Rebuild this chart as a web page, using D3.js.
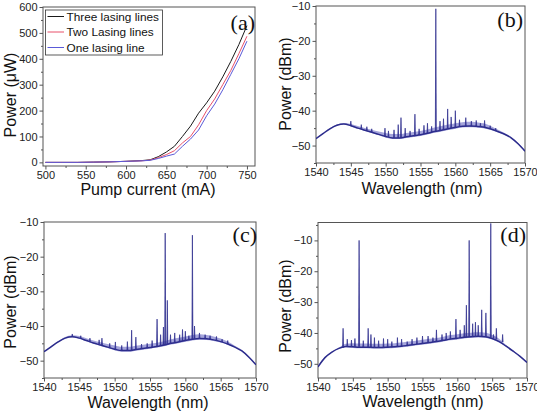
<!DOCTYPE html>
<html><head><meta charset="utf-8">
<script src="https://cdn.jsdelivr.net/npm/d3@7"></script>
<style>body{margin:0;background:#fff}svg{display:block}</style>
</head><body><svg id="c" width="537" height="419"></svg>
<script>
// ---------- Panel (a) data ----------
const currents   = [500,520,540,560,580,600,620,630,640,650,660,670,680,690,700,710,720,730,740,750];
const powerThree = [0,0,0,1,2,4,7,10,22,40,62,100,140,190,230,275,330,390,455,528];
const powerTwo   = [0,0,0,1,2,4,6,9,18,30,45,75,100,145,200,245,300,355,420,487];
const powerOne   = [0,0,0,1,2,4,6,8,15,24,32,62,90,125,180,225,280,340,400,468];
const seriesNames = ["Three lasing lines","Two Lasing lines","One lasing line"];
const currentTicks = [500,550,600,650,700,750];
const powerTicks = [0,100,200,300,400,500,600];

// ---------- Spectra data ----------
const wavelengths = [1540,1541,1542,1543,1544,1545,1546,1547,1548,1549,1550,1551,1552,1553,1554,1555,1556,1557,1558,1559,1560,1561,1562,1563,1564,1565,1566,1567,1568,1569,1570];
const wlTicks = [1540,1545,1550,1555,1560,1565,1570];
const dbmTicks = [-50,-40,-30,-20,-10];

const baseB = [-48.0,-46.6,-45.2,-44.2,-43.8,-44.3,-45.0,-45.6,-46.2,-46.8,-47.4,-47.8,-47.8,-47.5,-47.2,-46.9,-46.5,-46.0,-45.6,-45.2,-44.8,-44.5,-44.4,-44.5,-44.7,-45.2,-45.9,-46.7,-47.8,-49.5,-51.6];
const noiseB = [0.2,0.2,0.2,0.2,0.3,0.5,0.6,0.6,0.7,0.8,1.0,1.1,1.1,1.1,1.1,1.1,1.1,1.2,1.2,1.2,1.2,1.2,1.2,1.2,1.1,0.9,0.6,0.4,0.3,0.3,0.2];
const spikesB = [
 [1545.0,-44.3,-43.0],[1546.5,-45.2,-44.0],[1547.3,-45.6,-44.6],[1548.0,-46.2,-45.2],
 [1549.9,-47.4,-45.0],[1550.4,-47.5,-45.8],[1551.2,-47.8,-45.5],[1551.8,-47.8,-44.0],
 [1552.2,-47.8,-42.0],[1552.8,-47.6,-45.0],[1553.5,-47.4,-45.8],[1554.2,-47.2,-41.0],
 [1554.8,-47.0,-45.2],[1555.5,-46.7,-44.2],[1556.0,-46.5,-43.6],[1556.6,-46.2,-44.5],
 [1557.2,-46.0,-10.8],[1557.8,-45.7,-43.0],[1558.3,-45.5,-42.3],[1558.9,-45.2,-39.5],
 [1559.4,-45.0,-41.8],[1560.0,-44.8,-40.0],[1560.6,-44.6,-42.6],[1561.5,-44.5,-42.0],
 [1562.3,-44.4,-43.0],[1563.0,-44.5,-42.8],[1563.6,-44.6,-43.6],[1564.2,-44.7,-42.8],
 [1565.0,-45.2,-44.3],[1565.8,-45.8,-45.0]];

const baseC = [-47.4,-46.0,-44.6,-43.5,-43.1,-43.5,-44.2,-44.9,-45.5,-46.1,-46.7,-47.1,-47.1,-46.8,-46.5,-46.2,-45.9,-45.5,-45.0,-44.6,-44.2,-43.8,-43.6,-43.7,-44.0,-44.5,-45.2,-46.1,-47.2,-49.0,-51.2];
const noiseC = [0.2,0.2,0.2,0.3,0.4,0.6,0.7,0.7,0.8,0.9,1.1,1.1,1.1,1.1,1.1,1.1,1.1,1.1,1.2,1.2,1.2,1.2,1.2,1.1,1.0,0.9,0.7,0.4,0.3,0.3,0.2];
const spikesC = [
 [1544.0,-43.1,-42.3],[1545.2,-43.6,-42.8],[1546.5,-44.5,-43.5],[1547.8,-45.3,-44.0],
 [1548.2,-45.5,-43.5],[1549.3,-46.2,-45.0],[1550.1,-46.7,-44.6],[1551.0,-47.1,-45.6],
 [1551.8,-47.1,-44.5],[1552.4,-47.1,-41.2],[1553.0,-46.8,-43.2],[1553.8,-46.6,-45.2],
 [1554.6,-46.4,-45.0],[1555.3,-46.1,-44.2],[1556.0,-45.9,-38.0],[1556.5,-45.7,-42.5],
 [1556.9,-45.6,-40.3],[1557.15,-45.5,-13.2],[1557.45,-45.4,-32.6],[1557.9,-45.1,-42.5],
 [1558.5,-44.8,-42.0],[1559.2,-44.5,-42.5],[1559.6,-44.4,-41.0],[1560.0,-44.2,-41.5],
 [1560.5,-44.0,-42.8],[1561.0,-43.8,-13.8],[1561.3,-43.7,-40.0],[1562.0,-43.6,-42.0],
 [1562.8,-43.7,-42.5],[1563.5,-43.8,-42.8],[1564.4,-44.2,-43.0],[1565.2,-44.6,-43.8],
 [1566.0,-45.2,-44.2]];

const baseD = [-51.0,-48.0,-46.2,-45.0,-44.4,-44.5,-44.6,-44.6,-44.7,-44.7,-44.6,-44.5,-44.3,-44.0,-43.7,-43.4,-43.1,-42.8,-42.4,-42.0,-41.7,-41.4,-41.2,-41.1,-41.2,-41.8,-42.8,-44.3,-45.9,-47.6,-49.6];
const noiseD = [0.2,0.2,0.2,0.3,0.9,1.2,1.2,1.2,1.2,1.2,1.2,1.2,1.2,1.2,1.2,1.2,1.2,1.2,1.2,1.3,1.3,1.3,1.3,1.3,1.3,1.2,0.9,0.4,0.3,0.2,0.2];
const spikesD = [
 [1543.6,-44.8,-38.5],[1544.2,-44.4,-42.0],[1544.8,-44.5,-42.3],[1545.3,-44.5,-41.8],
 [1545.9,-44.5,-10.0],[1546.5,-44.6,-42.5],[1547.2,-44.6,-38.5],[1547.6,-44.6,-40.5],
 [1548.1,-44.7,-41.5],[1548.7,-44.7,-42.5],[1549.4,-44.7,-41.8],[1550.0,-44.6,-42.0],
 [1550.6,-44.6,-42.8],[1551.4,-44.5,-41.5],[1552.0,-44.3,-42.0],[1552.8,-44.1,-42.8],
 [1553.5,-43.9,-42.0],[1554.2,-43.6,-41.5],[1555.0,-43.4,-41.0],[1555.8,-43.1,-41.0],
 [1556.5,-42.9,-41.5],[1557.0,-42.8,-39.0],[1557.8,-42.5,-40.5],[1558.4,-42.3,-40.0],
 [1559.0,-42.0,-39.5],[1559.8,-41.8,-35.5],[1560.4,-41.6,-39.0],[1561.0,-41.5,-37.5],
 [1561.3,-41.4,-31.0],[1561.7,-41.3,-10.0],[1562.2,-41.2,-37.0],[1562.6,-41.2,-36.5],
 [1563.0,-41.1,-37.5],[1563.5,-41.1,-32.5],[1564.1,-41.2,-33.5],[1564.8,-41.5,-4.5],
 [1565.2,-41.7,-40.5],[1565.6,-42.0,-38.5],[1566.5,-42.9,-40.5]];

// ---------- drawing ----------
const svg = d3.select("#c");
const FONT = "'Liberation Sans', Arial, sans-serif";
const AX = "#555";

function axes(r, x, y, xt, yt, xminor, yminor, xTitle, yTitle, tag, tagPos, titles) {
  const g = svg.append("g");
  g.append("rect").attr("x", r.l).attr("y", r.t).attr("width", r.r - r.l).attr("height", r.b - r.t)
    .attr("fill", "none").attr("stroke", AX).attr("stroke-width", 1);
  g.append("g").attr("transform", `translate(0,${r.b})`)
    .call(d3.axisBottom(x).tickValues(xt).tickSize(3.5).tickPadding(1.5).tickFormat(d3.format("d")));
  g.append("g").attr("transform", `translate(0,${r.b})`)
    .call(d3.axisBottom(x).tickValues(xminor).tickSize(2).tickFormat(""));
  g.append("g").attr("transform", `translate(${r.l},0)`)
    .call(d3.axisLeft(y).tickValues(yt).tickSize(3.5).tickPadding(2).tickFormat(d3.format("d")));
  g.append("g").attr("transform", `translate(${r.l},0)`)
    .call(d3.axisLeft(y).tickValues(yminor).tickSize(2).tickFormat(""));
  g.selectAll(".domain").remove();
  g.selectAll(".tick line").attr("stroke", AX);
  g.selectAll(".tick text").attr("font-family", FONT).attr("font-size", 11).attr("fill", "#222");
  g.append("text").attr("x", titles.xx).attr("y", titles.xy).attr("text-anchor", "middle")
    .attr("font-family", FONT).attr("font-size", titles.fs).attr("fill", "#111").text(xTitle);
  g.append("text").attr("transform", `translate(${titles.yx},${titles.yy}) rotate(-90)`).attr("text-anchor", "middle")
    .attr("font-family", FONT).attr("font-size", titles.fs).attr("fill", "#111").text(yTitle);
  g.append("text").attr("x", tagPos[0]).attr("y", tagPos[1]).attr("text-anchor", "end")
    .attr("font-family", "'Liberation Serif', 'Times New Roman', serif").attr("font-size", 22).attr("fill", "#111").text(tag);
}

// Panel (a)
{
  const r = {l: 43, r: 255, t: 7, b: 166};
  const x = d3.scaleLinear().domain([497, 760]).range([r.l, r.r]);
  const y = d3.scaleLinear().domain([-14, 600]).range([r.b, r.t]);
  axes(r, x, y, currentTicks, powerTicks,
    [525,575,625,675,725], [50,150,250,350,450,550],
    "Pump current (mA)", "Power (\u03BCW)", "(a)", [255, 30],
    {xx: 148, xy: 195, yx: 16, yy: 95, fs: 16});
  const series = [powerThree, powerTwo, powerOne];
  const colors = ["#1a1a1a", "#e8506a", "#5a5ad8"];
  const line = d3.line().x((d, i) => x(currents[i])).y(d => y(d));
  series.forEach((s, k) => {
    svg.append("path").attr("d", line(s)).attr("fill", "none").attr("stroke", colors[k]).attr("stroke-width", 1);
  });
  const lg = svg.append("g");
  lg.append("rect").attr("x", 45.5).attr("y", 10).attr("width", 117).attr("height", 45)
    .attr("fill", "#fff").attr("stroke", "#333").attr("stroke-width", 0.8);
  seriesNames.forEach((n, k) => {
    const yy = 16.5 + k * 15.5;
    lg.append("line").attr("x1", 47.5).attr("x2", 64).attr("y1", yy).attr("y2", yy).attr("stroke", colors[k]).attr("stroke-width", 1);
    lg.append("text").attr("x", 66.5).attr("y", yy + 4.2).attr("font-family", FONT).attr("font-size", 11.8).attr("fill", "#111").text(n);
  });
}

function spectrum(id, r, ydom, base, noise, spikes, tag, tagPos, titles) {
  const x = d3.scaleLinear().domain([1540, 1570]).range([r.l, r.r]);
  const y = d3.scaleLinear().domain(ydom).range([r.b, r.t]);
  const yminor = [-55,-45,-35,-25,-15,-5].filter(v => v >= ydom[0] && v <= ydom[1]);
  axes(r, x, y, wlTicks, dbmTicks,
    [1542.5,1547.5,1552.5,1557.5,1562.5,1567.5], yminor,
    "Wavelength (nm)", "Power (dBm)", tag, tagPos, titles);
  const clipId = "clip" + id;
  svg.append("clipPath").attr("id", clipId).append("rect")
    .attr("x", r.l).attr("y", r.t).attr("width", r.r - r.l).attr("height", r.b - r.t);
  const g = svg.append("g").attr("clip-path", `url(#${clipId})`);
  const band = d3.area().curve(d3.curveMonotoneX)
    .x((d, i) => x(wavelengths[i])).y0((d, i) => y(d - noise[i] * 0.3)).y1((d, i) => y(d + noise[i]));
  g.append("path").attr("d", band(base)).attr("fill", "#8e8ed2").attr("opacity", 0.8);
  const line = d3.line().curve(d3.curveMonotoneX).x((d, i) => x(wavelengths[i])).y(d => y(d));
  g.append("path").attr("d", line(base)).attr("fill", "none").attr("stroke", "#2c2c8c").attr("stroke-width", 1.5);
  g.selectAll("path.spike").data(spikes).enter().append("path").attr("class", "spike")
    .attr("d", d => `M${x(d[0] - 0.07)},${y(d[1])}L${x(d[0])},${y(d[2])}L${x(d[0] + 0.07)},${y(d[1])}`)
    .attr("fill", "#3a3a9a").attr("stroke", "#2c2c8c").attr("stroke-width", 0.7).attr("stroke-linejoin", "miter");
}

spectrum("b", {l: 316, r: 525, t: 6, b: 163}, [-55, -10], baseB, noiseB, spikesB, "(b)", [523, 27],
  {xx: 422, xy: 194, yx: 291, yy: 84, fs: 16});
spectrum("c", {l: 44, r: 256, t: 222, b: 378}, [-55, -10], baseC, noiseC, spikesC, "(c)", [257, 242],
  {xx: 148, xy: 408, yx: 16, yy: 302, fs: 16});
spectrum("d", {l: 318, r: 527, t: 222.5, b: 378}, [-54.6, -4.2], baseD, noiseD, spikesD, "(d)", [526, 242],
  {xx: 423, xy: 407, yx: 291, yy: 306, fs: 16});
</script>
</body></html>
